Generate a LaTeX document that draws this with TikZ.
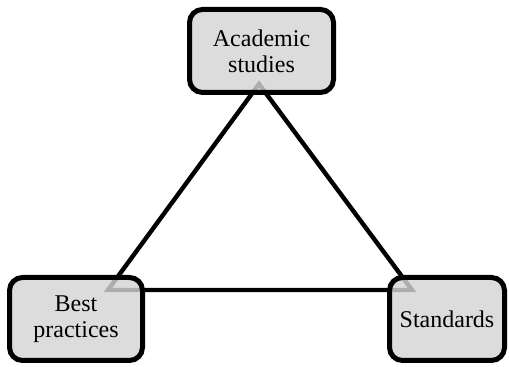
\documentclass[tikz,border=0pt]{standalone}
\usepackage{fontspec}
\setmainfont{Liberation Serif}
\begin{document}
\begin{tikzpicture}[x=0.5pt,y=-0.5pt,
  box/.style={draw=black, line width=2.5pt, rounded corners=6.5pt,
    fill=black!17, fill opacity=0.82, text opacity=1, align=center,
    font=\fontsize{12}{13}\selectfont, inner sep=0pt,
    minimum height=41.5pt},
  link/.style={draw=black, line width=2.2pt, line join=miter}]
\useasboundingbox (0,0) rectangle (509,367);
% corners of the triangle, hidden behind the boxes
\coordinate (ta) at (259,84);
\coordinate (tb) at (108,290);
\coordinate (tc) at (412,290);
\draw[link] (ta) -- (tb) -- (tc) -- cycle;
% the three boxes
\node[box, minimum width=72pt] (acad) at (261.5,51) {Academic\\studies};
\node[box, minimum width=66.5pt] (best) at (76,319) {Best\\practices};
\node[box, minimum width=57.5pt] (std) at (447,319) {Standards};
\end{tikzpicture}
\end{document}
